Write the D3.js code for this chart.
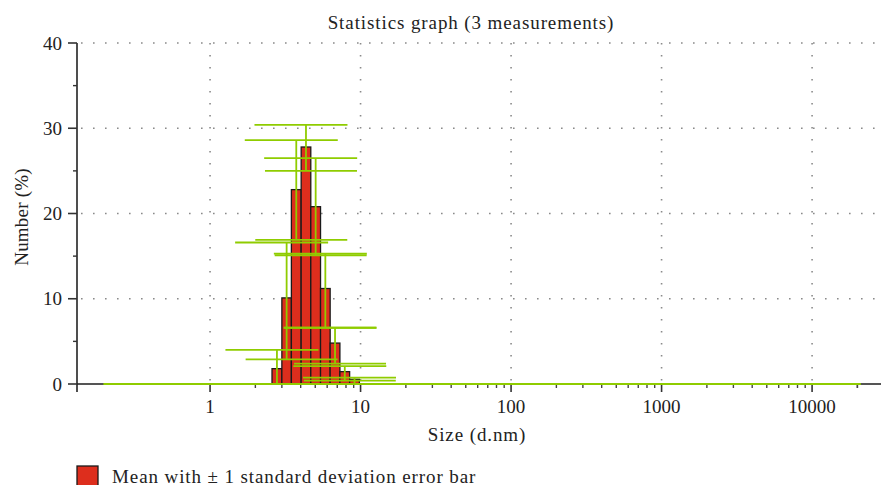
<!DOCTYPE html>
<html><head><meta charset="utf-8">
<script src="https://cdn.jsdelivr.net/npm/d3@7"></script>
<style>
body{margin:0;background:#fff}
svg text{font-family:"Liberation Serif","Times New Roman",serif;fill:#222}
</style>
</head><body>
<svg id="c" width="881" height="485"></svg>
<script>
// ---- data ----
const binEdges   = [2.58, 3.0, 3.47, 4.03, 4.67, 5.42, 6.28, 7.29, 8.46, 9.82]; // size classes (d.nm)
const meanNumber = [1.8, 10.1, 22.8, 27.8, 20.8, 11.2, 4.8, 1.45, 0.55];      // Number (%)
const sdUpper    = [4.0, 16.6, 28.6, 30.4, 26.5, 15.3, 6.6, 2.1, 0.75];
const sdLower    = [0, 2.9, 16.9, 25.0, 15.1, 6.6, 2.4, 0.4, 0];
const zeroBinCenters = [0.43, 9660];            // first / last instrument size class (value 0)
const xTickValues = [1, 10, 100, 1000, 10000];
const xTickLabels = ["1", "10", "100", "1000", "10000"];
const yTickValues = [0, 10, 20, 30, 40];
const yMinorValues = [5, 15, 25, 35];
const titleText = "Statistics graph (3 measurements)";
const xTitle = "Size (d.nm)";
const yTitle = "Number (%)";
const legendText = "Mean with \u00B1 1 standard deviation error bar";

// ---- layout ----
const svg = d3.select("#c");
const L = 77, R = 881, T = 43, B = 384;
const x = d3.scaleLog().domain([0.1306, 28700]).range([L, R]);
const y = d3.scaleLinear().domain([0, 40]).range([B, T]);
const RED = "#dd2e1d", GREEN = "#8fcc00", GRID = "#8a8a8a";
const FS = 19, LS = 0.9;

// minor x ticks
const xMinor = [];
for (let k = 0; k <= 4; k++) for (let m = 2; m <= 9; m++) xMinor.push(m * Math.pow(10, k));
xMinor.push(20000);

// grid
const grid = svg.append("g").attr("stroke", GRID).attr("stroke-width", 1.6)
  .attr("stroke-dasharray", "1.6,10.4").attr("fill", "none");
grid.selectAll("line.h").data(yTickValues.filter(v => v > 0)).join("line")
  .attr("x1", L + 4).attr("x2", R).attr("y1", d => y(d)).attr("y2", d => y(d));
grid.selectAll("line.v").data(xTickValues).join("line")
  .attr("x1", d => x(d)).attr("x2", d => x(d)).attr("y1", T).attr("y2", B);

// bars
const bins = meanNumber.map((v, i) => ({lo: binEdges[i], hi: binEdges[i + 1], v, up: sdUpper[i], dn: sdLower[i]}));
svg.append("g").selectAll("rect").data(bins).join("rect")
  .attr("x", d => x(d.lo)).attr("width", d => x(d.hi) - x(d.lo))
  .attr("y", d => y(d.v)).attr("height", d => y(0) - y(d.v))
  .attr("fill", RED).attr("stroke", "#1a1a1a").attr("stroke-width", 1.3);

// axes
const ax = svg.append("g").attr("fill", "none");
ax.append("line").attr("x1", L).attr("x2", R).attr("y1", B).attr("y2", B)
  .attr("stroke", "#555").attr("stroke-width", 1.8);
ax.append("line").attr("x1", L).attr("x2", L).attr("y1", T).attr("y2", B + 8)
  .attr("stroke", "#222").attr("stroke-width", 1.6);
ax.selectAll("line.ym").data(yTickValues).join("line")
  .attr("x1", L - 9).attr("x2", L).attr("y1", d => y(d)).attr("y2", d => y(d))
  .attr("stroke", "#333").attr("stroke-width", 1.6);
ax.selectAll("line.yn").data(yMinorValues).join("line")
  .attr("x1", L - 4).attr("x2", L).attr("y1", d => y(d)).attr("y2", d => y(d))
  .attr("stroke", "#333").attr("stroke-width", 1.4);
ax.selectAll("line.xm").data(xTickValues).join("line")
  .attr("x1", d => x(d)).attr("x2", d => x(d)).attr("y1", B).attr("y2", B + 8)
  .attr("stroke", "#333").attr("stroke-width", 1.6);
ax.selectAll("line.xn").data(xMinor).join("line")
  .attr("x1", d => x(d)).attr("x2", d => x(d)).attr("y1", B).attr("y2", B + 4)
  .attr("stroke", "#444").attr("stroke-width", 1.4);

// error bars (green) incl. zero-valued classes along the baseline
const eb = svg.append("g").attr("stroke", GREEN).attr("stroke-width", 1.8).attr("fill", "none");
eb.append("line").attr("x1", x(zeroBinCenters[0]) - 51.5).attr("x2", x(zeroBinCenters[1]) + 51)
  .attr("y1", y(0)).attr("y2", y(0));
const xc = d => Math.sqrt(d.lo * d.hi);
eb.selectAll("line.v").data(bins).join("line")
  .attr("x1", d => x(xc(d))).attr("x2", d => x(xc(d)))
  .attr("y1", d => y(d.up)).attr("y2", d => y(d.dn));
eb.selectAll("line.t").data(bins).join("line")
  .attr("x1", d => x(xc(d)) - 51.5).attr("x2", d => x(xc(d)) + 41.5)
  .attr("y1", d => y(d.up)).attr("y2", d => y(d.up));
eb.selectAll("line.b").data(bins).join("line")
  .attr("x1", d => x(xc(d)) - 41).attr("x2", d => x(xc(d)) + 51)
  .attr("y1", d => y(d.dn)).attr("y2", d => y(d.dn));

// tick labels
svg.append("g").selectAll("text").data(yTickValues).join("text")
  .attr("x", L - 15).attr("y", d => y(d)).attr("dy", "0.35em")
  .attr("text-anchor", "end").attr("font-size", FS).text(d => d);
svg.append("g").selectAll("text").data(xTickValues).join("text")
  .attr("x", d => x(d)).attr("y", 412.5)
  .attr("text-anchor", "middle").attr("font-size", FS).text((d, i) => xTickLabels[i]);

// titles
svg.append("text").attr("x", 471).attr("y", 29).attr("text-anchor", "middle")
  .attr("font-size", FS).attr("letter-spacing", LS).text(titleText);
svg.append("text").attr("x", 477).attr("y", 441).attr("text-anchor", "middle")
  .attr("font-size", FS).attr("letter-spacing", LS).text(xTitle);
svg.append("text").attr("transform", "translate(28,217) rotate(-90)").attr("text-anchor", "middle")
  .attr("font-size", FS).attr("letter-spacing", 0.2).text(yTitle);

// legend
svg.append("rect").attr("x", 77).attr("y", 466).attr("width", 21).attr("height", 21)
  .attr("fill", RED).attr("stroke", "#1a1a1a").attr("stroke-width", 1.3);
svg.append("text").attr("x", 112).attr("y", 482.5).attr("font-size", FS).attr("letter-spacing", LS).text(legendText);
</script>
</body></html>
